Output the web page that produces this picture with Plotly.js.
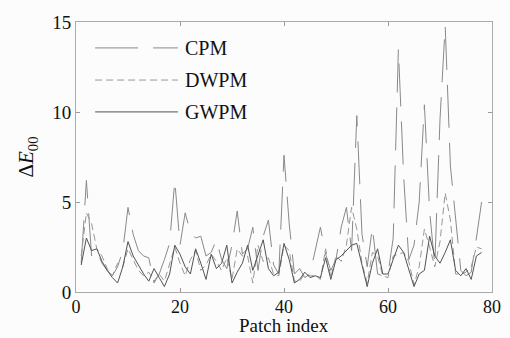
<!DOCTYPE html>
<html>
<head>
<meta charset="utf-8">
<script src="https://cdn.plot.ly/plotly-3.0.1.min.js"></script>
<style>html,body{margin:0;padding:0;background:#fcfcfc;}#chart{width:510px;height:338px;}</style>
</head>
<body>
<div id="chart"></div>
<script>
const patchIndex = Array.from({length: 78}, (_, k) => k + 1);
const seriesNames = ["CPM", "DWPM", "GWPM"];
const cpm = [1.6,6.2,2.0,2.3,1.6,1.2,0.9,1.4,2.3,4.7,3.2,2.3,2.0,1.9,0.5,1.0,1.8,2.7,6.2,2.6,
  4.4,3.3,3.0,3.1,2.0,2.2,2.9,1.8,1.3,2.6,4.5,2.1,2.4,3.6,1.2,3.1,4.0,1.5,1.0,7.6,
  3.8,1.0,1.3,0.8,1.0,2.4,3.6,2.1,1.2,1.8,3.6,4.7,2.3,9.8,3.2,1.4,3.6,1.0,0.9,1.0,
  3.0,13.5,6.5,1.8,2.6,5.0,10.4,4.5,1.5,9.6,14.8,7.0,4.0,1.2,0.9,1.1,3.0,5.0];
const dwpm = [2.0,4.4,3.8,2.4,2.0,1.3,0.9,1.6,1.4,2.4,1.8,1.2,0.9,1.1,0.6,1.0,0.6,1.5,2.5,1.6,
  0.9,1.8,2.3,1.2,1.5,2.1,1.7,1.2,1.9,0.7,2.4,2.0,2.0,0.5,2.6,1.7,1.9,1.0,0.9,2.6,
  2.3,0.6,0.6,1.0,0.9,0.9,0.7,2.4,0.8,2.0,1.7,2.6,4.7,3.5,1.6,0.5,2.2,2.0,0.9,0.8,
  2.0,2.1,2.2,1.7,0.4,1.4,3.5,2.5,1.4,2.8,5.5,4.0,1.0,1.0,1.1,1.4,2.5,2.4];
const gwpm = [1.5,3.0,2.3,2.4,1.7,1.2,0.8,0.5,1.4,2.8,2.0,1.5,1.0,0.6,1.3,0.8,0.3,1.0,2.6,2.1,
  1.4,1.0,2.4,1.6,0.7,2.1,1.3,1.6,2.6,0.5,1.1,1.6,2.6,1.2,2.1,2.9,1.3,0.9,1.1,2.7,
  1.8,0.5,0.7,1.1,0.8,0.9,0.8,1.9,0.7,1.8,2.0,2.3,2.6,2.7,1.5,0.3,1.6,2.4,1.0,1.0,
  1.8,2.6,2.2,1.2,0.3,1.0,1.2,3.1,2.0,1.6,2.2,2.9,1.2,0.9,1.3,0.7,2.0,2.2];
const xTicks = [0, 20, 40, 60, 80];
const yTicks = [0, 5, 10, 15];

const styles = [
  {color: '#8c8888', dash: '43px,15px'},
  {color: '#9a9696', dash: '7px,4px'},
  {color: '#555252', dash: 'solid'}
];
const values = [cpm, dwpm, gwpm];
const traces = values.map((v, k) => ({
  x: patchIndex, y: v, type: 'scatter', mode: 'lines', name: seriesNames[k],
  line: {color: styles[k].color, width: 1, dash: styles[k].dash}, showlegend: false
}));

const font = 'Liberation Serif, Times New Roman, serif';
const legY = [0.904, 0.785, 0.667];
const shapes = styles.map((s, k) => ({
  type: 'line', xref: 'paper', yref: 'paper', x0: 0.046, x1: 0.245, y0: legY[k], y1: legY[k],
  line: {color: s.color, width: 1, dash: s.dash}
}));
const annotations = seriesNames.map((n, k) => ({
  xref: 'paper', yref: 'paper', x: 0.258, y: legY[k], xanchor: 'left', yanchor: 'middle',
  text: n, showarrow: false, font: {family: font, size: 20, color: '#111'}
}));
annotations.push({
  xref: 'paper', yref: 'paper', x: 0.5, y: 0, xanchor: 'center', yanchor: 'top', yshift: -22,
  text: 'Patch index', showarrow: false, borderpad: 0, font: {family: font, size: 19, color: '#111'}
});

const layout = {
  width: 510, height: 338,
  margin: {l: 76, r: 18, t: 22, b: 46},
  paper_bgcolor: '#fcfcfc', plot_bgcolor: '#fcfcfc',
  xaxis: {range: [0, 80], tickvals: xTicks, ticks: 'inside', ticklen: 4, tickcolor: '#999',
    showline: true, linecolor: '#aaa', linewidth: 1, mirror: 'ticks', showgrid: false, zeroline: false,
    ticklabelstandoff: -2,
    tickfont: {family: font, size: 18, color: '#111'}},
  yaxis: {range: [0, 15], tickvals: yTicks, ticks: 'inside', ticklen: 4, tickcolor: '#999',
    showline: true, linecolor: '#aaa', linewidth: 1, mirror: 'ticks', showgrid: false, zeroline: false,
    tickfont: {family: font, size: 19, color: '#111'},
    title: {text: 'Δ<i>E</i><sub>00</sub>', font: {family: font, size: 21, color: '#111'}, standoff: 12}},
  shapes: shapes, annotations: annotations
};
Plotly.newPlot('chart', traces, layout, {displayModeBar: false, staticPlot: true});
</script>
</body>
</html>
